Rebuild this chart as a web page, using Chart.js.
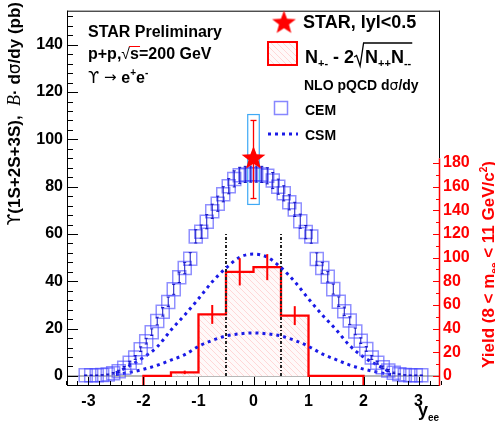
<!DOCTYPE html>
<html>
  <head>
    <style>
      html, body { margin: 0; background: #fff; }
      #chart-container { width: 495px; height: 433px; position: relative; }
    </style>
  </head>
  <body>
    <div id="chart-container"><canvas id="chart"></canvas></div>
    <script src="https://cdn.jsdelivr.net/npm/chart.js"></script>
    <script>
      // axis ranges (left axis in pb, right axis in counts)
      const xMin = -3.39, xMax = 3.39;
      const yMin = -3.83, yMax = 154.4;
      const y2Min = -7.66, y2Max = 308.8;
      const y2AxisTop = 184;

      const xTicks = [-3, -2, -1, 0, 1, 2, 3];
      const yTicks = [0, 20, 40, 60, 80, 100, 120, 140];
      const y2Ticks = [0, 20, 40, 60, 80, 100, 120, 140, 160, 180];

      // CEM NLO pQCD prediction (squares)
      const cemX = [-3.05, -2.95, -2.85, -2.75, -2.65, -2.55, -2.45, -2.35, -2.25, -2.15, -2.05, -1.95, -1.85, -1.75, -1.65, -1.55,
        -1.45, -1.35, -1.25, -1.15, -1.05, -0.95, -0.85, -0.75, -0.65, -0.55, -0.45, -0.35, -0.25, -0.15, -0.05,
        0.05, 0.15, 0.25, 0.35, 0.45, 0.55, 0.65, 0.75, 0.85, 0.95, 1.05, 1.15, 1.25, 1.35, 1.45, 1.55,
        1.65, 1.75, 1.85, 1.95, 2.05, 2.15, 2.25, 2.35, 2.45, 2.55, 2.65, 2.75, 2.85, 2.95, 3.05];
      const cemY = [0.3, 0.3, 0.3, 0.4, 0.6, 1.1, 2.0, 3.5, 5.6, 7.8, 11.3, 14.7, 18.5, 23.2, 27.1, 31.3,
        36.6, 41.7, 45.6, 49.5, 59.0, 61.0, 65.2, 69.6, 72.8, 76.8, 80.2, 83.3, 84.8, 85.2, 85.3,
        85.3, 85.2, 84.6, 82.6, 80.0, 77.2, 73.4, 70.4, 65.4, 60.8, 58.9, 49.4, 45.6, 41.9, 36.7, 31.4,
        27.3, 23.4, 18.8, 14.9, 11.4, 7.8, 5.6, 3.7, 2.3, 1.3, 0.7, 0.4, 0.3, 0.3, 0.3];
      const cemErr = [0.1, 0.1, 0.1, 0.1, 0.2, 0.3, 0.4, 0.5, 0.6, 0.8, 1.0, 1.2, 1.4, 1.6, 1.8, 2.0,
        2.1, 2.2, 2.4, 2.6, 2.8, 2.8, 3.0, 3.0, 3.2, 3.2, 3.2, 3.4, 3.4, 3.4, 3.4,
        3.4, 3.4, 3.4, 3.4, 3.2, 3.2, 3.2, 3.0, 3.0, 2.8, 2.8, 2.6, 2.4, 2.2, 2.1, 2.0,
        1.8, 1.6, 1.4, 1.2, 1.0, 0.8, 0.6, 0.5, 0.4, 0.3, 0.2, 0.1, 0.1, 0.1, 0.1];

      // CSM band (dotted curves)
      const csmX = [-2.5, -2.25, -2, -1.75, -1.5, -1.25, -1, -0.75, -0.5, -0.25, 0, 0.25, 0.5, 0.75, 1, 1.25, 1.5, 1.75, 2, 2.25, 2.5];
      const csmHigh = [1.3, 4.3, 7.8, 12.3, 19.4, 25.8, 32.6, 39.8, 45.6, 50.2, 51.5, 50.2, 45.8, 39.8, 32.6, 25.8, 19.6, 12.8, 8.0, 4.6, 1.4];
      const csmLow = [0.6, 1.5, 2.8, 4.5, 6.7, 9.0, 12.5, 15.0, 16.9, 17.8, 18.2, 17.8, 16.9, 15.0, 12.5, 9.3, 6.9, 4.6, 2.9, 1.6, 0.6];

      // N+- - 2sqrt(N++N--) yield histogram (right axis)
      const histEdges = [-2, -1.5, -1, -0.5, 0, 0.5, 1, 2];
      const histYield = [0, 3, 52, 88, 92, 51, 0];
      const histErr = [0, 1.5, 8, 11.5, 11, 8, 0];

      // STAR |y|<0.5 point
      const starX = 0, starY = 91.5, starStat = 16.5, starSys = 19, starHalfWidth = 0.105;

      // |y| < 0.5 markers
      const cutX = [-0.5, 0.5];
      const cutTop = 60;

      const SANS = '"Liberation Sans", Arial, sans-serif';

      function makeStar(r, color) {
        const c = document.createElement('canvas');
        c.width = c.height = 2 * r + 2;
        const g = c.getContext('2d');
        g.fillStyle = color;
        g.beginPath();
        for (let i = 0; i < 10; i++) {
          const rad = i % 2 ? r * 0.42 : r;
          const a = -Math.PI / 2 + i * Math.PI / 5;
          g.lineTo(r + 1 + rad * Math.cos(a), r + 1 + rad * Math.sin(a));
        }
        g.closePath();
        g.fill();
        return c;
      }

      function makeHatch() {
        const c = document.createElement('canvas');
        c.width = c.height = 6;
        const g = c.getContext('2d');
        g.fillStyle = 'rgba(255,249,249,1)';
        g.fillRect(0, 0, 6, 6);
        g.strokeStyle = 'rgba(255,215,215,1)';
        g.lineWidth = 1;
        g.beginPath();
        g.moveTo(0, 0); g.lineTo(6, 6);
        g.moveTo(-1, 5); g.lineTo(1, 7);
        g.moveTo(5, -1); g.lineTo(7, 1);
        g.stroke();
        return g.createPattern(c, 'repeat');
      }

      const starImg = makeStar(12.5, '#ff0000');
      const hatch = makeHatch();

      function runs(ctx, x, y, parts) {
        for (const p of parts) {
          ctx.font = p.f;
          ctx.fillText(p.t, x, y + (p.dy || 0));
          x += ctx.measureText(p.t).width + (p.dx || 0);
        }
        return x;
      }
      function runsWidth(ctx, parts) {
        let w = 0;
        for (const p of parts) { ctx.font = p.f; w += ctx.measureText(p.t).width + (p.dx || 0); }
        return w;
      }

      function line(ctx, x1, y1, x2, y2) {
        ctx.beginPath(); ctx.moveTo(x1, y1); ctx.lineTo(x2, y2); ctx.stroke();
      }

      const histPoints = [{x: histEdges[0], y: y2Min}];
      histYield.forEach((v, i) => histPoints.push({x: histEdges[i], y: v}));
      histPoints.push({x: histEdges[histEdges.length - 1], y: y2Min});

      const decor = {
        id: 'decor',
        beforeDatasetsDraw(chart) {
          const {ctx, scales: {x, y}} = chart;
          ctx.save();
          // zero line
          ctx.strokeStyle = '#a0a0a0'; ctx.lineWidth = 1.5;
          line(ctx, x.getPixelForValue(xMin), y.getPixelForValue(0), x.getPixelForValue(xMax), y.getPixelForValue(0));
          // systematic box
          ctx.strokeStyle = '#3fa9f5'; ctx.lineWidth = 1.2;
          const bx1 = x.getPixelForValue(starX - starHalfWidth), bx2 = x.getPixelForValue(starX + starHalfWidth);
          const by1 = y.getPixelForValue(starY + starSys), by2 = y.getPixelForValue(starY - starSys);
          ctx.strokeRect(bx1, by1, bx2 - bx1, by2 - by1);
          ctx.restore();
        },
        afterDatasetsDraw(chart) {
          const {ctx, chartArea: ca, scales: {x, y, y2}} = chart;
          ctx.save();
          // CEM error bars
          ctx.strokeStyle = '#1010c0'; ctx.lineWidth = 1;
          cemX.forEach((vx, i) => {
            const px = x.getPixelForValue(vx);
            const t = y.getPixelForValue(cemY[i] + cemErr[i]), b = y.getPixelForValue(cemY[i] - cemErr[i]);
            line(ctx, px, t, px, b);
            line(ctx, px - 1.5, t, px + 1.5, t);
            line(ctx, px - 1.5, b, px + 1.5, b);
          });
          // histogram error bars
          ctx.strokeStyle = '#ff0000'; ctx.lineWidth = 2;
          histYield.forEach((v, i) => {
            if (!histErr[i]) return;
            const px = x.getPixelForValue((histEdges[i] + histEdges[i + 1]) / 2);
            line(ctx, px, y2.getPixelForValue(v + histErr[i]), px, y2.getPixelForValue(v - histErr[i]));
          });
          // STAR stat error
          ctx.lineWidth = 1.3;
          const sx = x.getPixelForValue(starX);
          const st = y.getPixelForValue(starY + starStat), sb = y.getPixelForValue(starY - starStat);
          line(ctx, sx, st, sx, sb);
          line(ctx, sx - 3, st, sx + 3, st);
          line(ctx, sx - 3, sb, sx + 3, sb);
          ctx.drawImage(starImg, sx - starImg.width / 2, y.getPixelForValue(starY) - starImg.height / 2 - 1);

          // frame
          ctx.strokeStyle = '#000'; ctx.lineWidth = 1;
          line(ctx, ca.left + 0.5, ca.top, ca.left + 0.5, ca.bottom);
          line(ctx, ca.left, ca.top + 0.5, ca.right, ca.top + 0.5);
          line(ctx, ca.left, ca.bottom + 0.5, ca.right, ca.bottom + 0.5);
          const redTop = y2.getPixelForValue(y2AxisTop);
          line(ctx, ca.right - 0.5, ca.top, ca.right - 0.5, redTop);
          ctx.strokeStyle = '#ff0000'; ctx.lineWidth = 1.5;
          line(ctx, ca.right - 0.5, redTop, ca.right - 0.5, ca.bottom + 1);

          // inner ticks
          ctx.strokeStyle = '#000'; ctx.lineWidth = 1;
          for (let v = 0; v <= 152; v += 4) {
            const py = Math.round(y.getPixelForValue(v)) + 0.5;
            line(ctx, ca.left, py, ca.left + (v % 20 === 0 ? 11 : 6), py);
          }
          for (let k = -17; k <= 17; k++) {
            const v = k / 5;
            const px = Math.round(x.getPixelForValue(v)) + 0.5;
            line(ctx, px, ca.bottom, px, ca.bottom - (k % 5 === 0 ? 8 : 4));
          }
          ctx.strokeStyle = '#ff0000';
          for (let v = 0; v <= 180; v += 10) {
            const py = Math.round(y2.getPixelForValue(v)) + 0.5;
            line(ctx, ca.right, py, ca.right - (v % 20 === 0 ? 7 : 4), py);
          }

          // annotation text
          ctx.fillStyle = '#000';
          ctx.textBaseline = 'alphabetic';
          ctx.textAlign = 'left';
          const B16 = 'bold 16px ' + SANS;
          runs(ctx, 88, 37, [{t: 'STAR Preliminary', f: B16}]);
          let ex = runs(ctx, 88, 59, [{t: 'p+p,', f: B16}, {t: '\u221A', f: '16px ' + SANS}]);
          const sW = (ctx.font = B16, ctx.measureText('s').width);
          ctx.lineWidth = 1;
          line(ctx, ex - 1, 46.5, ex + sW + 1, 46.5);
          runs(ctx, ex, 59, [{t: 's=200 GeV', f: B16}]);
          runs(ctx, 88, 83, [
            {t: '\u03D2', f: '16px "DejaVu Sans"'},
            {t: ' \u2192 ', f: '15px "DejaVu Sans"', dy: -1},
            {t: 'e', f: B16}, {t: '+', f: 'bold 10px ' + SANS, dy: -7},
            {t: 'e', f: B16}, {t: '-', f: 'bold 10px ' + SANS, dy: -7}
          ]);

          // legend
          ctx.drawImage(starImg, 284 - starImg.width / 2, 23 - starImg.height / 2);
          runs(ctx, 303, 28, [{t: 'STAR, lyl<0.5', f: 'bold 18px ' + SANS}]);

          ctx.fillStyle = hatch;
          ctx.fillRect(268, 42, 29, 23);
          ctx.strokeStyle = '#ff0000'; ctx.lineWidth = 2;
          ctx.strokeRect(268, 42, 29, 23);
          ctx.fillStyle = '#000';
          const B18 = 'bold 18px ' + SANS, S11 = 'bold 11px ' + SANS;
          let nx = runs(ctx, 305, 63, [{t: 'N', f: B18}, {t: '+-', f: S11, dy: 4}, {t: ' - 2', f: B18}]);
          const nEnd = runs(ctx, nx + 11, 63, [{t: 'N', f: B18}, {t: '++', f: S11, dy: 4}, {t: 'N', f: B18}, {t: '--', f: S11, dy: 4}]);
          ctx.strokeStyle = '#000'; ctx.lineWidth = 1.3;
          ctx.beginPath();
          ctx.moveTo(nx, 57); ctx.lineTo(nx + 2.5, 55.5); ctx.lineTo(nx + 6, 66); ctx.lineTo(nx + 9.5, 43);
          ctx.lineTo(nEnd + 1, 43);
          ctx.stroke();

          const B14 = 'bold 14px ' + SANS;
          runs(ctx, 304, 90, [{t: 'NLO pQCD d', f: B14}, {t: '\u03C3', f: '14px "DejaVu Sans"'}, {t: '/dy', f: B14}]);
          ctx.strokeStyle = 'rgba(70,70,255,0.65)'; ctx.lineWidth = 1.5;
          ctx.strokeRect(274.5, 101.5, 13, 13);
          runs(ctx, 305, 115, [{t: 'CEM', f: B14}]);
          ctx.strokeStyle = '#1a1ae6'; ctx.lineWidth = 3; ctx.setLineDash([3, 4]);
          line(ctx, 268, 134, 298, 134);
          ctx.setLineDash([]);
          runs(ctx, 305, 140, [{t: 'CSM', f: B14}]);

          // left axis title
          const B17 = 'bold 17px ' + SANS;
          const lt = [
            {t: '\u03D2', f: '17px "DejaVu Sans"'},
            {t: '(1S+2S+3S),  ', f: B17},
            {t: 'B', f: 'italic 18px "Liberation Serif"'},
            {t: '\u00B7 d', f: B17},
            {t: '\u03C3', f: '17px "DejaVu Sans"'},
            {t: '/dy (pb)', f: B17}
          ];
          let L = runsWidth(ctx, lt);
          ctx.save();
          ctx.translate(20, 2 + L);
          ctx.rotate(-Math.PI / 2);
          runs(ctx, 0, 0, lt);
          ctx.restore();

          // right axis title
          ctx.fillStyle = '#ff0000';
          const rt = [
            {t: 'Yield (8 < m', f: B17},
            {t: 'ee', f: 'bold 10px ' + SANS, dy: 4},
            {t: ' < 11 GeV/c', f: B17},
            {t: '2', f: 'bold 10px ' + SANS, dy: -7},
            {t: ')', f: B17}
          ];
          L = runsWidth(ctx, rt);
          ctx.save();
          ctx.translate(494, 264.5 + L / 2);
          ctx.rotate(-Math.PI / 2);
          runs(ctx, 0, 0, rt);
          ctx.restore();

          // x axis title
          ctx.fillStyle = '#000';
          runs(ctx, 418, 416, [{t: 'y', f: 'bold 18px ' + SANS}, {t: 'ee', f: 'bold 10px ' + SANS, dy: 5}]);
          ctx.restore();
        }
      };

      const tickFont = {family: SANS, weight: 'bold', size: 16};

      new Chart(document.getElementById('chart'), {
        type: 'scatter',
        data: {
          datasets: [
            {
              label: 'CEM',
              data: cemX.map((v, i) => ({x: v, y: cemY[i]})),
              pointStyle: 'rect',
              pointRadius: 9.2,
              borderWidth: 1.5,
              borderColor: 'rgba(70,70,255,0.6)',
              backgroundColor: 'rgba(0,0,0,0)',
              order: 3
            },
            {
              type: 'line',
              label: 'CSM high',
              data: csmX.map((v, i) => ({x: v, y: csmHigh[i]})),
              borderColor: '#1a1ae6',
              borderWidth: 3,
              borderDash: [3, 4],
              pointRadius: 0,
              cubicInterpolationMode: 'monotone',
              fill: false,
              order: 4
            },
            {
              type: 'line',
              label: 'CSM low',
              data: csmX.map((v, i) => ({x: v, y: csmLow[i]})),
              borderColor: '#1a1ae6',
              borderWidth: 3,
              borderDash: [3, 4],
              pointRadius: 0,
              cubicInterpolationMode: 'monotone',
              fill: false,
              order: 4
            },
            {
              type: 'line',
              label: 'cut low',
              data: [{x: cutX[0], y: 0}, {x: cutX[0], y: cutTop}],
              borderColor: '#222',
              borderWidth: 2,
              borderDash: [3, 2, 1, 2],
              pointRadius: 0,
              fill: false,
              order: 5
            },
            {
              type: 'line',
              label: 'cut high',
              data: [{x: cutX[1], y: 0}, {x: cutX[1], y: cutTop}],
              borderColor: '#222',
              borderWidth: 2,
              borderDash: [3, 2, 1, 2],
              pointRadius: 0,
              fill: false,
              order: 5
            },
            {
              type: 'line',
              label: 'yield',
              yAxisID: 'y2',
              data: histPoints,
              stepped: 'before',
              borderColor: '#ff0000',
              borderWidth: 2.3,
              pointRadius: 0,
              backgroundColor: hatch,
              fill: {target: {value: 0}},
              order: 6
            }
          ]
        },
        options: {
          responsive: true,
          maintainAspectRatio: false,
          animation: false,
          events: [],
          layout: {padding: {top: 1, left: 0, right: 0, bottom: 0}},
          plugins: {legend: {display: false}, tooltip: {enabled: false}},
          scales: {
            x: {
              type: 'linear', min: xMin, max: xMax,
              grid: {display: false, drawTicks: false},
              border: {display: false},
              afterBuildTicks: s => { s.ticks = xTicks.map(v => ({value: v})); },
              afterFit: s => { s.height = 48; s.paddingLeft = 0; s.paddingRight = 0; },
              ticks: {font: tickFont, color: '#000', padding: 7, autoSkip: false, maxRotation: 0, callback: v => String(v)}
            },
            y: {
              type: 'linear', position: 'left', min: yMin, max: yMax,
              grid: {display: false, drawTicks: false},
              border: {display: false},
              afterBuildTicks: s => { s.ticks = yTicks.map(v => ({value: v})); },
              afterFit: s => { s.width = 67; s.paddingTop = 0; s.paddingBottom = 0; },
              ticks: {font: tickFont, color: '#000', padding: 4, autoSkip: false, callback: v => String(v)}
            },
            y2: {
              type: 'linear', position: 'right', min: y2Min, max: y2Max,
              grid: {display: false, drawTicks: false},
              border: {display: false},
              afterBuildTicks: s => { s.ticks = y2Ticks.map(v => ({value: v})); },
              afterFit: s => { s.width = 55; s.paddingTop = 0; s.paddingBottom = 0; },
              ticks: {font: tickFont, color: '#ff0000', padding: 3, autoSkip: false, callback: v => String(v)}
            }
          }
        },
        plugins: [decor]
      });
    </script>
  </body>
</html>
